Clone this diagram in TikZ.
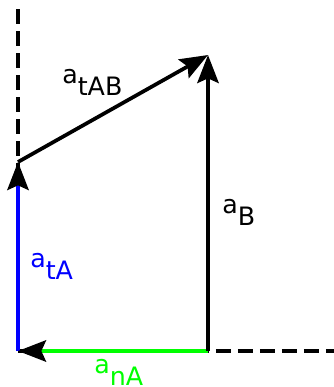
\documentclass[tikz,border=0pt]{standalone}
\usepackage{fontspec}
\setmainfont{DejaVu Sans}
\usepackage{tikz}
\usetikzlibrary{arrows.meta}
\definecolor{tangblue}{RGB}{0,0,255}
\definecolor{normgreen}{RGB}{0,255,0}

\newlength{\pxunit}
\setlength{\pxunit}{0.75pt}
\newcommand{\accel}[1]{a\raisebox{-12\pxunit}{#1}}

\begin{document}
\begin{tikzpicture}[
  x=0.75pt, y=-0.75pt,
  font=\fontsize{19}{22}\selectfont,
  axis/.style={line width=2.8pt, dash pattern=on 11pt off 5.5pt},
  vec/.style={line width=2.8pt,
              -{Stealth[length=21pt, width=16pt, inset=3.5pt, color=black]}},
  lbl/.style={anchor=base west, inner sep=0pt},
]
\useasboundingbox (0,0) rectangle (334,387);

% -------------------------------------------------------------------------
% Reference points
% -------------------------------------------------------------------------
\coordinate (top)    at (18,9);
\coordinate (origin) at (18,351);
\coordinate (right)  at (334,351);
\coordinate (pointB) at (208,351);
\coordinate (tipA)   at (18,162);
\coordinate (tipB)   at (208,55);

% dashed axes
\draw[axis] (top) -- (origin);
\draw[axis] (origin) -- (right);

% -------------------------------------------------------------------------
% Acceleration vectors
% -------------------------------------------------------------------------
\draw[vec, tangblue] (origin) -- (tipA);
\draw[vec, normgreen] (pointB) -- (origin);
\draw[vec] (tipA) -- (tipB);
\draw[vec] (pointB) -- (tipB);

% labels
\node[lbl] (labtAB) at (62,83)  {\accel{tAB}};
\node[lbl] (labB)   at (222,213) {\accel{B}};
\node[lbl, text=tangblue]  (labtA) at (30,267) {\accel{tA}};
\node[lbl, text=normgreen] (labnA) at (94,373) {\accel{nA}};

\end{tikzpicture}
\end{document}
